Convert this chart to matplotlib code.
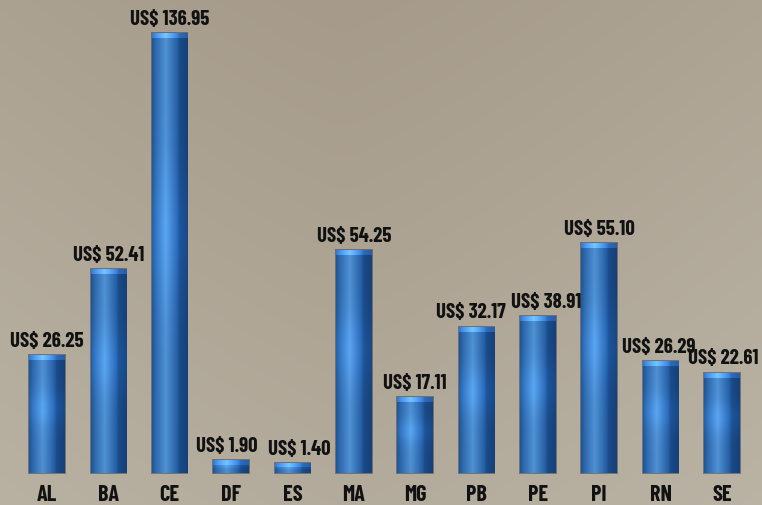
import numpy as np
import matplotlib
matplotlib.use("Agg")
import matplotlib.pyplot as plt

# states and the values printed above each bar
states = ["AL", "BA", "CE", "DF", "ES", "MA", "MG", "PB", "PE", "PI", "RN", "SE"]
values = [26.25, 52.41, 136.95, 1.90, 1.40, 54.25, 17.11, 32.17, 38.91, 55.10, 26.29, 22.61]
# bar heights as drawn in the source (the artwork is not to scale with the labels)
heights = [27.4, 47.4, 102.3, 3.0, 2.3, 51.9, 17.7, 34.0, 36.5, 53.5, 26.0, 23.3]
# small sideways nudges (points) so neighbouring labels do not collide
label_dx = [0, 0, 0, -3, 5, 0, 0, -4, 6, 0, -1, 1]

plt.rcParams["font.family"] = ["Barlow Condensed", "Roboto Condensed", "DejaVu Sans"]

fig = plt.figure(figsize=(7.62, 5.05), dpi=100)
ax = fig.add_axes([0, 0, 1, 1])
ax.set_xlim(-0.766, 11.654)
ax.set_ylim(-7.44, 110.0)
ax.axis("off")

# background gradient
gy, gx = np.mgrid[0:1:200j, 0:1:300j]
dark = np.array([166, 155, 138]) / 255
light = np.array([190, 184, 170]) / 255
t = np.clip(0.55 * gy + 0.6 * np.abs(gx - 0.45) ** 1.2, 0, 1)[..., None]
bg = dark * (1 - t) + light * t
ax.imshow(bg, extent=(-0.766, 11.654, -7.44, 110.0), aspect="auto",
          origin="upper", zorder=0)

x = np.arange(len(states))
bars = ax.bar(x, heights, width=0.58, color="#2a64a6", zorder=2,
              edgecolor=(0.12, 0.16, 0.25, 0.45), linewidth=1.4)

# face shading: light streak left of centre, darker side on the right
cols = np.linspace(0, 1, 64)
stops = [0.0, 0.1, 0.38, 0.7, 0.78, 1.0]
r = np.interp(cols, stops, [32, 45, 80, 38, 26, 22])
g = np.interp(cols, stops, [84, 105, 145, 96, 74, 64])
b = np.interp(cols, stops, [148, 172, 212, 165, 135, 120])
face = np.stack([r, g, b], axis=-1) / 255
rows = np.linspace(0, 1, 80)[:, None, None]
glow = 1 + 0.14 * np.exp(-((rows - 0.55) / 0.16) ** 2)
face_img = np.clip(face[None, :, :] * glow, 0, 1)

for bar in bars:
    x0, w, h = bar.get_x(), bar.get_width(), bar.get_height()
    im = ax.imshow(face_img, extent=(x0, x0 + w, 0, h), aspect="auto",
                   origin="lower", zorder=3)
    im.set_clip_path(bar)
    cap = min(1.2, h * 0.4)
    cap_img = np.clip(face[None, :, :] * 1.3 + 0.04, 0, 1)
    im2 = ax.imshow(cap_img, extent=(x0, x0 + w, h - cap, h), aspect="auto",
                    origin="lower", zorder=4)
    im2.set_clip_path(bar)

for xi, h, v, dx in zip(x, heights, values, label_dx):
    ax.annotate(f"US$ {v:.2f}", (xi, h), xytext=(dx, 6), textcoords="offset points",
                ha="center", va="baseline", fontsize=15, fontweight="bold",
                color="#111111", zorder=5)

for xi, s in zip(x, states):
    ax.annotate(s, (xi, 0), xytext=(0, -15.5), textcoords="offset points",
                ha="center", va="center", fontsize=16, fontweight="bold",
                color="#111111", zorder=5)

fig.savefig("out.png", dpi=100)
